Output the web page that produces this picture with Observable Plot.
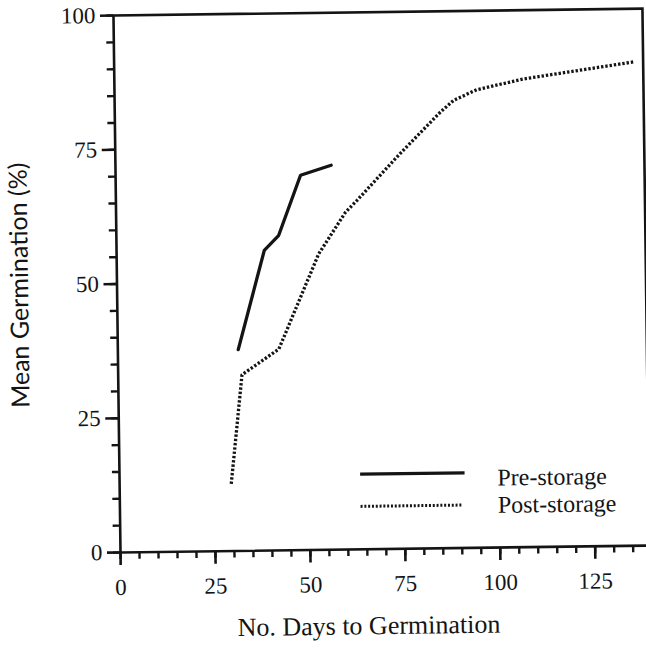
<!DOCTYPE html>
<html><head><meta charset="utf-8">
<script src="https://cdn.jsdelivr.net/npm/d3@7"></script>
<script src="https://cdn.jsdelivr.net/npm/@observablehq/plot@0.6"></script>
<style>
body{margin:0;background:#fff;}
#chart{position:relative;width:646px;height:659px;overflow:hidden;background:#fff;}
#chart svg{transform:rotate(-0.75deg);transform-origin:120px 552px;background:transparent;}
</style></head><body><div id="chart"></div>
<script>
const preDays = [31.7, 38.9, 42.7, 48.7, 56.8];
const preGerm = [37.5, 55.9, 58.6, 69.8, 71.6];
const postDays = [29.4, 32.6, 42.4, 53.2, 60.4, 63.5, 75.0, 85.7, 89.3, 95.4, 107.8, 136.8];
const postGerm = [12.5, 32.8, 37.5, 55.1, 62.8, 65.0, 73.6, 81.2, 83.4, 85.3, 87.2, 90.1];
const xMajorTicks = [0, 25, 50, 75, 100, 125];
const yMajorTicks = [0, 25, 50, 75, 100];
const seriesNames = ["Pre-storage", "Post-storage"];
const xLabel = "No. Days to Germination";
const yLabel = "Mean Germination (%)";

const pre = preDays.map((d, i) => ({days: d, germ: preGerm[i]}));
const post = postDays.map((d, i) => ({days: d, germ: postGerm[i]}));
const xMinor = d3.range(0, 140, 5);
const yMinor = d3.range(0, 101, 5);

const serif = "Liberation Serif, Times New Roman, serif";
const ink = "#141414";

const chart = Plot.plot({
  width: 646,
  height: 659,
  marginLeft: 120,
  marginRight: -3,
  marginTop: 15,
  marginBottom: 107,
  style: {fontFamily: serif, color: ink, background: "transparent", overflow: "visible"},
  x: {domain: [0, 139.3], label: null},
  y: {domain: [0, 100], label: null},
  marks: [
    Plot.frame({stroke: ink, strokeWidth: 2.6}),
    Plot.axisX(xMinor, {tickSize: 7, tickFormat: () => "", strokeWidth: 2.4, stroke: ink}),
    Plot.axisX(xMajorTicks, {tickSize: 13, tickPadding: 13, fontSize: 23, fontFamily: serif, strokeWidth: 2.6, stroke: ink, fill: ink}),
    Plot.axisY(yMinor, {tickSize: 7, tickFormat: () => "", strokeWidth: 2.4, stroke: ink}),
    Plot.axisY(yMajorTicks, {tickSize: 13, tickPadding: 5, fontSize: 23, fontFamily: serif, strokeWidth: 2.6, stroke: ink, fill: ink}),
    Plot.line(pre, {x: "days", y: "germ", stroke: ink, strokeWidth: 3.3, strokeLinejoin: "miter"}),
    Plot.line(post, {x: "days", y: "germ", stroke: ink, strokeWidth: 3.3, strokeLinecap: "butt", strokeDasharray: "2.4,1.9"}),
    Plot.ruleY([14.0], {x1: 63.5, x2: 91, stroke: ink, strokeWidth: 3.2}),
    Plot.ruleY([8.0], {x1: 63.5, x2: 90.5, stroke: ink, strokeWidth: 3, strokeLinecap: "butt", strokeDasharray: "2,1.8"}),
    Plot.text([seriesNames[0]], {x: 99.5, y: 13.0, text: d => d, textAnchor: "start", fontSize: 24, fontFamily: serif, fill: ink}),
    Plot.text([seriesNames[1]], {x: 99.5, y: 7.9, text: d => d, textAnchor: "start", fontSize: 24, fontFamily: serif, fill: ink}),
    Plot.text([xLabel], {frameAnchor: "bottom", dx: -17, dy: 85, text: d => d, fontSize: 26, fontFamily: serif, fill: ink}),
    Plot.text([yLabel], {frameAnchor: "left", textAnchor: "middle", dx: -97, dy: 0, rotate: -90, text: d => d, fontSize: 25, fontFamily: "Lato, Open Sans, sans-serif", fill: ink})
  ]
});
document.getElementById("chart").appendChild(chart);
</script>
</body></html>
